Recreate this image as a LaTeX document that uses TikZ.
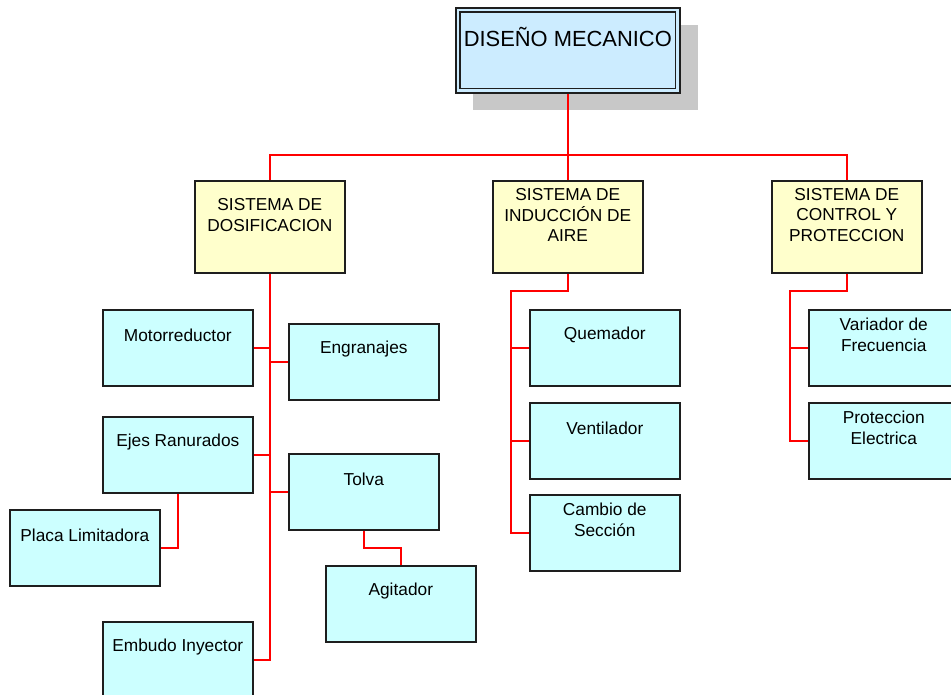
\documentclass[tikz,border=0pt]{standalone}
\usepackage{fontspec}
\setmainfont{Liberation Sans}
\usetikzlibrary{calc}
\definecolor{titlefill}{RGB}{204,236,255}
\definecolor{yelfill}{RGB}{255,255,204}
\definecolor{cyfill}{RGB}{204,255,255}
\definecolor{shadowgray}{RGB}{200,200,200}
\definecolor{bordergray}{RGB}{30,30,30}
\definecolor{wirered}{RGB}{255,0,0}
\begin{document}
\begin{tikzpicture}[x=1pt,y=-1pt,
  basebox/.style={draw=bordergray, line width=1.6pt, rectangle, inner sep=0pt, anchor=north west},
  leafbox/.style={basebox, fill=cyfill, minimum width=150pt, minimum height=76pt},
  sysbox/.style={basebox, fill=yelfill, minimum width=150pt, minimum height=92pt},
  leaftext/.style={anchor=center, align=center, inner sep=0pt, font=\fontsize{17.3}{20.8}\selectfont, yshift=-26pt},
  systext/.style={anchor=center, align=center, inner sep=0pt, font=\fontsize{17.3}{20.8}\selectfont, yshift=-35pt},
  wire/.style={draw=wirered, line width=2pt}
]
\useasboundingbox (0,0) rectangle (951,694);
% title with shadow
\fill[shadowgray] (473,25) rectangle (698,110);
\node[basebox, fill=titlefill, minimum width=224pt, minimum height=85pt,
  label={[anchor=center, inner sep=0pt, font=\fontsize{21.9}{26}\selectfont, yshift=-30pt]north:DISEÑO MECANICO}] (title) at (455,7) {};
\draw[draw=bordergray, line width=1.3pt] ([shift={(5,5)}]title.north west) rectangle ([shift={(-5,-5)}]title.south east);

% level 2
\node[sysbox, label={[systext]north:SISTEMA DE\\DOSIFICACION}] (s1) at (194,180) {};
\node[sysbox, label={[systext]north:SISTEMA DE\\INDUCCIÓN DE\\AIRE}] (s2) at (492,180) {};
\node[sysbox, label={[systext]north:SISTEMA DE\\CONTROL Y\\PROTECCION}] (s3) at (771,180) {};

% level 3 left
\node[leafbox, label={[leaftext]north:Motorreductor}] (mot) at (102,309) {};
\node[leafbox, label={[leaftext]north:Engranajes}] (eng) at (288,323) {};
\node[leafbox, label={[leaftext]north:Ejes Ranurados}] (ejes) at (102,416) {};
\node[leafbox, label={[leaftext]north:Tolva}] (tolva) at (288,453) {};
\node[leafbox, label={[leaftext]north:Placa Limitadora}] (placa) at (9,509) {};
\node[leafbox, label={[leaftext]north:Agitador}] (agit) at (325,565) {};
\node[leafbox, label={[leaftext]north:Embudo Inyector}] (emb) at (102,621) {};
% level 3 middle
\node[leafbox, label={[leaftext]north:Quemador}] (que) at (529,309) {};
\node[leafbox, label={[leaftext]north:Ventilador}] (ven) at (529,402) {};
\node[leafbox, label={[leaftext]north:Cambio de\\Sección}] (camb) at (529,494) {};
% level 3 right
\node[leafbox, label={[leaftext]north:Variador de\\Frecuencia}] (var) at (808,309) {};
\node[leafbox, label={[leaftext]north:Proteccion\\Electrica}] (prot) at (808,402) {};

% connectors top
\coordinate (bus) at (567,155);
\draw[wire] (title.south) -- (title.south |- bus);
\draw[wire] (s1.north) -- (s1.north |- bus) -- (s3.north |- bus) -- (s3.north);
\draw[wire] (s2.north) -- (s2.north |- bus);

% left trunk
\draw[wire] (s1.south) -- (s1.south |- emb.east) -- (emb.east);
\draw[wire] (mot.east) -- (mot.east -| s1.south);
\draw[wire] (eng.west) -- (eng.west -| s1.south);
\draw[wire] (ejes.east) -- (ejes.east -| s1.south);
\draw[wire] (tolva.west) -- (tolva.west -| s1.south);
\draw[wire] (ejes.south) |- (placa.east);
\coordinate (tmid) at ($(tolva.south)!.5!(agit.north)$);
\draw[wire] (tolva.south) -- (tolva.south |- tmid) -| (agit.north);

% middle trunk
\coordinate (m2) at (511,291);
\draw[wire] (s2.south) |- (m2) -- (m2 |- camb.west) -- (camb.west);
\draw[wire] (que.west) -- (que.west -| m2);
\draw[wire] (ven.west) -- (ven.west -| m2);

% right trunk
\coordinate (m3) at (790,291);
\draw[wire] (s3.south) |- (m3) -- (m3 |- prot.west) -- (prot.west);
\draw[wire] (var.west) -- (var.west -| m3);
\end{tikzpicture}
\end{document}
